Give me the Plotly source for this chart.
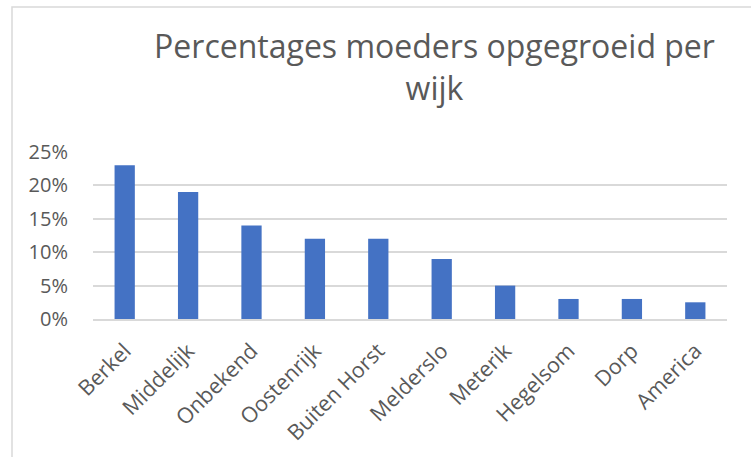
import plotly.graph_objects as go

categories = ["Berkel", "Middelijk", "Onbekend", "Oostenrijk", "Buiten Horst",
              "Melderslo", "Meterik", "Hegelsom", "Dorp", "America"]
values = [0.23, 0.19, 0.14, 0.12, 0.12, 0.09, 0.05, 0.03, 0.03, 0.025]
title_text = "Percentages moeders opgegroeid per<br>wijk"

W, H = 751, 457
L, R, T, B = 93, 24, 152, 138
pw, ph = W - L - R, H - T - B

def px_x(x):
    return (x - L) / pw

def px_y(y):
    return (H - B - y) / ph

fig = go.Figure(go.Bar(
    x=categories, y=values,
    marker=dict(color="#4472C4", line=dict(width=0)),
))

fig.update_layout(
    width=W, height=H,
    margin=dict(l=L, r=R, t=T, b=B),
    paper_bgcolor="white", plot_bgcolor="white",
    bargap=0.68,
    showlegend=False,
    font=dict(family="Open Sans", color="#595959"),
    title=dict(text=title_text, x=434.5 / W, xanchor="center",
               xref="container", yref="container",
               y=1 - 58 / H, yanchor="top",
               font=dict(family="Open Sans", size=32, color="#595959")),
    shapes=[dict(type="rect", xref="paper", yref="paper",
                 x0=px_x(12), x1=px_x(W + 20), y0=px_y(H + 20), y1=px_y(7),
                 line=dict(color="#D9D9D9", width=1.5), fillcolor="rgba(0,0,0,0)",
                 layer="below")],
)
fig.update_yaxes(range=[0, 0.25], dtick=0.05, tickformat=".0%",
                 showgrid=True, gridcolor="#D9D9D9", gridwidth=1.5,
                 zeroline=False, showline=False,
                 tickfont=dict(size=20, color="#595959"),
                 ticks="outside", ticklen=20, tickcolor="rgba(0,0,0,0)")
fig.update_xaxes(tickangle=-45, showline=True, linecolor="#D9D9D9", linewidth=1.5,
                 tickfont=dict(size=21.5, color="#595959"),
                 ticks="outside", ticklen=9, tickcolor="rgba(0,0,0,0)")

fig.write_html("out.html", config={"displayModeBar": False},
               post_script="document.body.style.margin='0';")
